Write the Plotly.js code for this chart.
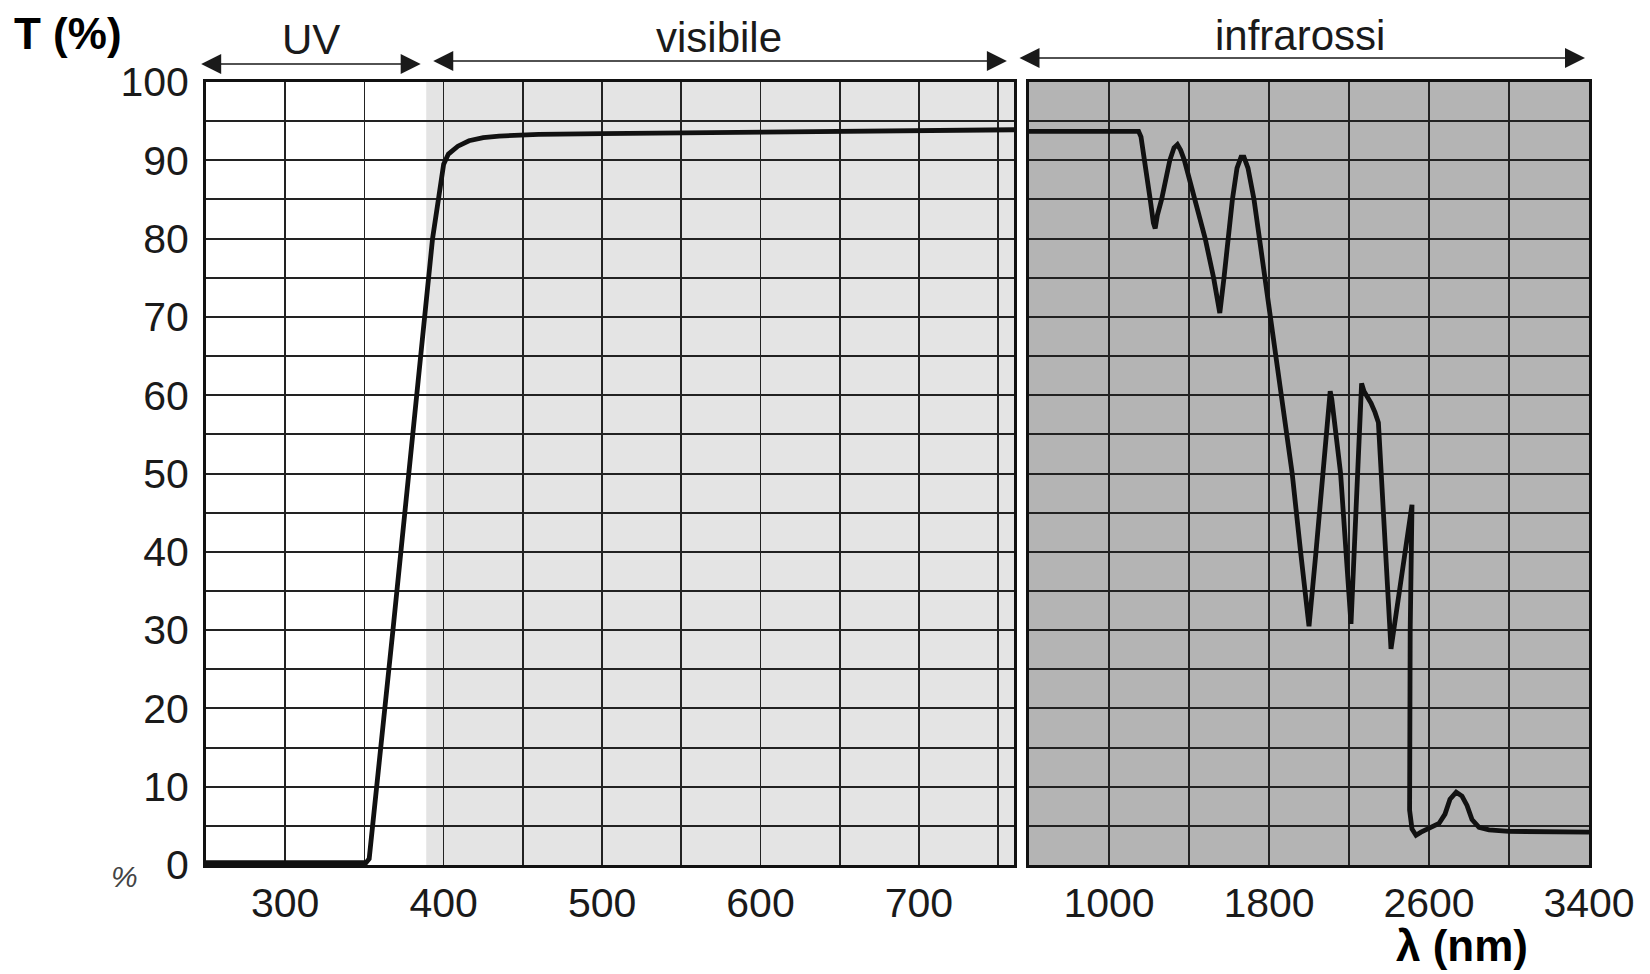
<!DOCTYPE html>
<html>
<head>
<meta charset="utf-8">
<script src="https://cdn.plot.ly/plotly-3.0.1.min.js"></script>
<style>
  html, body { margin: 0; padding: 0; background: #ffffff; }
  #chart { width: 1650px; height: 974px; }
</style>
</head>
<body>
<div id="chart"></div>
<script>
// ---- data ----
const wlUvVis = [250, 300, 351, 353, 357.5, 363, 368, 373, 378, 383, 388, 393, 396.7, 400, 403, 409, 416, 425, 435, 460, 500, 560, 620, 680, 760];
const tUvVis  = [0.3, 0.3, 0.3, 0.8, 10, 20, 30, 40, 50, 60, 70, 80, 85, 89.5, 90.8, 91.8, 92.5, 92.9, 93.1, 93.3, 93.4, 93.5, 93.6, 93.75, 93.9];

const wlIr = [600, 1000, 1148, 1160, 1179, 1206, 1222, 1231, 1242, 1263, 1304, 1325, 1342, 1358, 1377, 1429, 1481, 1523, 1554,
              1575, 1596, 1617, 1640, 1660, 1675, 1695, 1725, 1752, 1775, 1805, 1863, 1916, 1958, 2000,
              2035, 2070, 2098, 2106, 2114, 2158, 2210, 2242, 2255, 2263, 2275, 2310, 2330, 2347, 2410,
              2470, 2515, 2506, 2501, 2503, 2515, 2535, 2560, 2600, 2650, 2680, 2705, 2736, 2765, 2790, 2815, 2850, 2900, 3000, 3400];
const tIr  = [93.7, 93.7, 93.7, 93.0, 90, 85, 82, 81.3, 83, 85, 90, 91.6, 92, 91.3, 90, 85, 80, 75, 70.5,
              75, 80, 85, 89, 90.4, 90.4, 89, 85, 80, 76, 70.5, 60, 50, 40, 30.5,
              40, 51, 59.5, 60.5, 59.5, 50, 30.8, 50, 58, 61.5, 60.5, 59, 57.8, 56.5, 27.6,
              38, 46, 30, 15, 7, 4.6, 3.8, 4.2, 4.7, 5.3, 6.5, 8.4, 9.3, 8.8, 7.6, 5.8, 4.8, 4.5, 4.3, 4.2];

const yTickVals = [0, 10, 20, 30, 40, 50, 60, 70, 80, 90, 100];
const xTicksUvVis = [300, 400, 500, 600, 700];
const xTicksIr = [1000, 1800, 2600, 3400];
const regionLabels = ['UV', 'visibile', 'infrarossi'];
const yTitle = 'T (%)';
const xTitle = 'λ (nm)';

// ---- styles ----
const FONT = 'Liberation Sans, Arial, sans-serif';
const GRID = '#222222';
const INK = '#1a1a1a';
const tickFont = { family: FONT, size: 41, color: INK };

const traces = [
  { x: wlUvVis, y: tUvVis, xaxis: 'x', yaxis: 'y', type: 'scatter', mode: 'lines',
    line: { color: '#111', width: 4.8 }, hoverinfo: 'x+y' },
  { x: wlIr, y: tIr, xaxis: 'x2', yaxis: 'y2', type: 'scatter', mode: 'lines',
    line: { color: '#111', width: 4.8 }, hoverinfo: 'x+y' }
];

const W = 1650, H = 974;
const mL = 206, mR = 61, mT = 82, mB = 109;
const plotW = W - mL - mR, plotH = H - mT - mB;
const px2px = p => (p - mL) / plotW;       // page x pixel -> paper x
const py2py = p => (H - mB - p) / plotH;   // page y pixel -> paper y

const commonX = {
  showline: true, mirror: true, linecolor: '#111', linewidth: 3,
  showgrid: true, gridcolor: GRID, gridwidth: 1.6, zeroline: false,
  ticks: '', tickfont: tickFont, fixedrange: true
};
const commonY = {
  range: [0, 100], tickmode: 'array', tickvals: yTickVals,
  showline: true, mirror: true, linecolor: '#111', linewidth: 3,
  showgrid: true, gridcolor: GRID, gridwidth: 2, zeroline: false,
  minor: { dtick: 5, tick0: 0, showgrid: true, gridcolor: GRID, gridwidth: 2, ticks: '' },
  fixedrange: true
};

const arrowStyle = { text: '', showarrow: true, arrowside: 'end+start', arrowhead: 2,
                     arrowsize: 2.5, arrowwidth: 1.6, arrowcolor: '#1a1a1a' };

const layout = {
  width: W, height: H,
  margin: { l: mL, r: mR, t: mT, b: mB },
  paper_bgcolor: '#ffffff', plot_bgcolor: '#ffffff',
  showlegend: false,
  xaxis: Object.assign({}, commonX, {
    domain: [0, 808 / plotW], range: [250, 760], anchor: 'y',
    tickmode: 'array', tickvals: xTicksUvVis,
    minor: { dtick: 50, tick0: 250, showgrid: true, gridcolor: GRID, gridwidth: 1.6, ticks: '' }
  }),
  xaxis2: Object.assign({}, commonX, {
    domain: [823 / plotW, 1], range: [600, 3400], anchor: 'y2',
    tickmode: 'array', tickvals: xTicksIr,
    minor: { dtick: 400, tick0: 600, showgrid: true, gridcolor: GRID, gridwidth: 1.6, ticks: '' }
  }),
  yaxis: Object.assign({}, commonY, {
    anchor: 'x', ticks: 'outside', ticklen: 6, tickcolor: 'rgba(0,0,0,0)', tickfont: tickFont
  }),
  yaxis2: Object.assign({}, commonY, { anchor: 'x2', showticklabels: false }),
  shapes: [
    { type: 'rect', xref: 'x', yref: 'paper', x0: 389, x1: 760, y0: 0, y1: 1,
      fillcolor: '#e4e4e4', line: { width: 0 }, layer: 'below' },
    { type: 'rect', xref: 'x2', yref: 'paper', x0: 600, x1: 3400, y0: 0, y1: 1,
      fillcolor: '#b4b4b4', line: { width: 0 }, layer: 'below' }
  ],
  annotations: [
    // region arrows (double headed)
    Object.assign({ xref: 'x', yref: 'paper', x: 385.5, y: py2py(64), axref: 'x', ax: 246, ayref: 'pixel', ay: 0 }, arrowStyle),
    Object.assign({ xref: 'x', yref: 'paper', x: 755.5, y: py2py(61), axref: 'x', ax: 392.5, ayref: 'pixel', ay: 0 }, arrowStyle),
    Object.assign({ xref: 'x2', yref: 'paper', x: 3380, y: py2py(58), axref: 'x2', ax: 545, ayref: 'pixel', ay: 0 }, arrowStyle),
    // region labels
    { xref: 'x', yref: 'paper', x: 316, y: py2py(40), text: regionLabels[0], showarrow: false,
      xanchor: 'center', yanchor: 'middle', font: { family: FONT, size: 42, color: INK } },
    { xref: 'x', yref: 'paper', x: 573.5, y: py2py(38), text: regionLabels[1], showarrow: false,
      xanchor: 'center', yanchor: 'middle', font: { family: FONT, size: 42, color: INK } },
    { xref: 'x2', yref: 'paper', x: 1955, y: py2py(35), text: regionLabels[2], showarrow: false,
      xanchor: 'center', yanchor: 'middle', font: { family: FONT, size: 42, color: INK } },
    // axis titles
    { xref: 'paper', yref: 'paper', x: px2px(12), y: py2py(34), text: '<b>' + yTitle + '</b>', showarrow: false,
      xanchor: 'left', yanchor: 'middle', font: { family: FONT, size: 44, color: '#000' } },
    { xref: 'paper', yref: 'paper', x: px2px(1462), y: py2py(945), text: '<b>' + xTitle + '</b>', showarrow: false,
      xanchor: 'center', yanchor: 'middle', borderpad: 0, font: { family: FONT, size: 44, color: '#000' } },
    // stray scanned unit mark
    { xref: 'paper', yref: 'paper', x: px2px(124), y: py2py(876), text: '<i>%</i>', showarrow: false,
      xanchor: 'center', yanchor: 'middle', font: { family: FONT, size: 30, color: '#444' } }
  ]
};

Plotly.newPlot('chart', traces, layout, { displayModeBar: false, staticPlot: true });
</script>
</body>
</html>
